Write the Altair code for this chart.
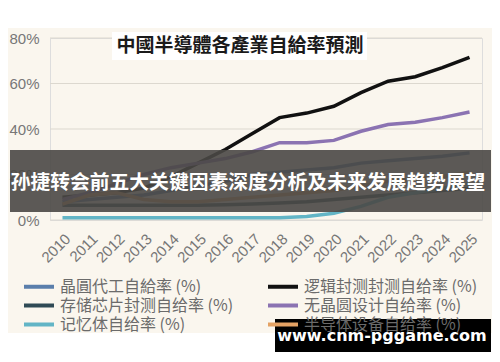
import altair as alt
import pandas as pd

# ---- data ----
years = list(range(2010, 2026))
foundry = [8, 9, 10, 11, 13, 15, 17, 20, 21, 22, 23, 25, 26, 27, 28, 29.5]
logic_pkg = [10, 11, 12, 14, 19, 25, 31, 38, 45, 47, 50, 56, 61, 63, 67, 71.5]
storage_pkg = [6.5, 6.5, 6.5, 6.5, 6.5, 6.5, 6.7, 7, 7.5, 8, 9, 10, 11, 12, 13, 14]
fabless = [9, 12, 16, 20, 23, 25, 27, 30, 34, 34, 35, 39, 42, 43, 45, 47.5]
memory = [1, 1, 1, 1, 1, 1, 1, 1, 1, 1.5, 3, 6, 10, 12, 14, 16]
equipment = [7, 11, 12, 9, 8, 8, 9, 10, 11, 12, 13, 15, 17, 18, 19, 21]

# legend order (column by column)
series_names = [
    "晶圓代工自給率 (%)",
    "存储芯片封测自给率 (%)",
    "记忆体自给率 (%)",
    "逻辑封测封测自给率 (%)",
    "无晶圆设计自给率 (%)",
    "半导体设备自给率 (%)",
]
series_values = [foundry, storage_pkg, memory, logic_pkg, fabless, equipment]
series_colors = ["#5a7eab", "#2f4a55", "#62b5c6", "#111111", "#8b73b2", "#e4a264"]
# drawing order (bottom to top)
draw_order = [
    "记忆体自给率 (%)",
    "存储芯片封测自给率 (%)",
    "半导体设备自给率 (%)",
    "晶圓代工自給率 (%)",
    "无晶圆设计自给率 (%)",
    "逻辑封测封测自给率 (%)",
]

grid_values = [0, 20, 40, 60, 80]

title_text = "中國半導體各產業自給率預測"
banner_text = "孙捷转会前五大关键因素深度分析及未来发展趋势展望"
watermark_text = "www.cnm-pggame.com"

rows = []
for name, vals in zip(series_names, series_values):
    for yr, v in zip(years, vals):
        rows.append({"year": yr, "series": name, "value": v,
                     "order": draw_order.index(name)})
df = pd.DataFrame(rows)
grid_df = pd.DataFrame({"value": grid_values})
one = pd.DataFrame({"a": [0]})

W, H = 432, 182
CREAM = "#faf6ee"

yscale = alt.Scale(domain=[0, 80], nice=False)
yaxis = alt.Axis(title=None, values=grid_values,
                 labelExpr="datum.value + '%'", ticks=False,
                 domain=False, grid=False, labelFontSize=15,
                 labelColor="#777777", labelPadding=11,
                 labelFont="Liberation Sans")

top_white = alt.Chart(one).mark_rect(color="white").encode(
    x=alt.value(-50), x2=alt.value(460), y=alt.value(-40), y2=alt.value(-10)
)
bottom_white = alt.Chart(one).mark_rect(color="white").encode(
    x=alt.value(-50), x2=alt.value(460), y=alt.value(295), y2=alt.value(330)
)

grid = alt.Chart(grid_df).mark_rule(color="#dcd8cf", strokeWidth=1).encode(
    y=alt.Y("value:Q", scale=yscale, axis=yaxis),
    x=alt.value(0), x2=alt.value(W),
)

lines = alt.Chart(df).mark_line(strokeWidth=3.5).encode(
    x=alt.X("year:O", scale=alt.Scale(type="point", padding=0.46),
            axis=alt.Axis(title=None, labelAngle=-45, labelFontSize=15,
                          labelColor="#777777", ticks=False, domain=False,
                          grid=False, labelPadding=11, labelFont="Liberation Sans",
                          labelAlign="right", labelBaseline="top")),
    y=alt.Y("value:Q", scale=yscale, axis=yaxis),
    color=alt.Color("series:N",
                    scale=alt.Scale(domain=series_names, range=series_colors),
                    sort=series_names,
                    legend=alt.Legend(title=None, orient="none", legendX=-20.5,
                                      legendY=239, columns=2,
                                      symbolType="M-2,0H2",
                                      symbolSize=225, symbolStrokeWidth=4,
                                      labelOffset=11.5,
                                      labelFont="Noto Sans CJK SC", labelFontSize=16,
                                      labelColor="#6b6b6b", columnPadding=26,
                                      rowPadding=1, padding=0, labelLimit=300)),
    detail="series:N",
    order=alt.Order("order:Q"),
)

title_box = alt.Chart(one).mark_rect(color="white").encode(
    x=alt.value(62), x2=alt.value(317), y=alt.value(-6), y2=alt.value(22)
)
title = alt.Chart(one).mark_text(
    text=title_text, font="Noto Sans CJK TC", fontSize=19, fontWeight="bold",
    color="#1a1a1a", align="center", baseline="middle"
).encode(x=alt.value(190), y=alt.value(8))

banner = alt.Chart(one).mark_rect(color="#4a4845", opacity=0.9).encode(
    x=alt.value(-40), x2=alt.value(441), y=alt.value(112), y2=alt.value(174)
)
banner_t = alt.Chart(one).mark_text(
    text=banner_text, font="Noto Sans CJK SC", fontSize=19.8, fontWeight="bold",
    color="white", align="center", baseline="middle"
).encode(x=alt.value(198), y=alt.value(145))

wm = alt.Chart(one).mark_rect(color="black").encode(
    x=alt.value(225), x2=alt.value(441), y=alt.value(281), y2=alt.value(314)
)
wm_t = alt.Chart(one).mark_text(
    text=watermark_text, font="DejaVu Sans", fontSize=16, fontWeight="bold",
    color="white", align="center", baseline="middle"
).encode(x=alt.value(332), y=alt.value(298))

chart = alt.layer(
    top_white, bottom_white, grid, lines,
    title_box, title, banner, banner_t, wm, wm_t
).properties(
    width=W, height=H,
    autosize=alt.AutoSizeParams(type="none"),
    padding={"left": 42, "top": 30, "right": 10, "bottom": 134},
).configure_view(stroke=None).configure(background=CREAM)

chart.save("out.html", embed_options={"renderer": "svg", "actions": False})
